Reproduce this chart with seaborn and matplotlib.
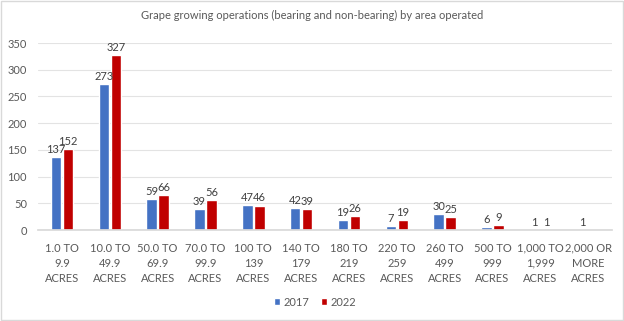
import numpy as np
import pandas as pd
import matplotlib
matplotlib.use("Agg")
import matplotlib.pyplot as plt
import seaborn as sns

categories = ["1.0 TO\n9.9\nACRES", "10.0 TO\n49.9\nACRES", "50.0 TO\n69.9\nACRES",
              "70.0 TO\n99.9\nACRES", "100 TO\n139\nACRES", "140 TO\n179\nACRES",
              "180 TO\n219\nACRES", "220 TO\n259\nACRES", "260 TO\n499\nACRES",
              "500 TO\n999\nACRES", "1,000 TO\n1,999\nACRES", "2,000 OR\nMORE\nACRES"]
values_2017 = [137, 273, 59, 39, 47, 42, 19, 7, 30, 6, 1, 1]
values_2022 = [152, 327, 66, 56, 46, 39, 26, 19, 25, 9, 1, np.nan]
series = ["2017", "2022"]
colors = ["#4472C4", "#C00000"]

df = pd.DataFrame({
    "cat": categories * 2,
    "year": [series[0]] * len(categories) + [series[1]] * len(categories),
    "val": values_2017 + values_2022,
})

sns.set_theme(style="white")
plt.rcParams['font.family'] = ['Lato', 'DejaVu Sans']
txt = "#595959"

fig = plt.figure(figsize=(6.24, 3.21), dpi=100)
ax = fig.add_axes([0.061, 0.283, 0.92, 0.583])
sns.barplot(data=df, x="cat", y="val", hue="year", palette=colors,
            order=categories, hue_order=series, width=0.5, gap=0.12,
            ax=ax, legend=True, saturation=1)

for cont in ax.containers:
    labels = ["" if (np.isnan(v)) else f"{int(v)}" for v in cont.datavalues]
    ax.bar_label(cont, labels=labels, padding=1.5, fontsize=8, color="#404040")

ax.set_ylim(0, 350)
ax.set_yticks(range(0, 351, 50))
ax.set_xlim(-0.5, len(categories) - 0.5)
ax.grid(axis="y", color="#E3E3E3", linewidth=0.8)
ax.set_axisbelow(True)
for s in ["top", "right", "left"]:
    ax.spines[s].set_visible(False)
ax.spines["bottom"].set_color("#D9D9D9")
ax.set_xlabel("")
ax.set_ylabel("")
ax.tick_params(axis="both", length=0, labelsize=8, colors=txt, pad=8)
ax.tick_params(axis="x", pad=9)
for t in ax.get_xticklabels():
    t.set_linespacing(1.45)

ax.legend(loc="center", bbox_to_anchor=(0.505, 0.058), bbox_transform=fig.transFigure,
          ncol=2, frameon=False, fontsize=8, handlelength=0.6, handleheight=0.6,
          handletextpad=0.3, columnspacing=1.0, labelcolor=txt)

fig.text(0.5, 0.953, "Grape growing operations (bearing and non-bearing) by area operated",
         ha="center", va="center", fontsize=8, color=txt)

fig.patches.append(plt.Rectangle((0.001, 0.002), 0.997, 0.995, transform=fig.transFigure,
                                 fill=False, edgecolor="#D9D9D9", linewidth=1))

fig.savefig("out.png", dpi=100)
